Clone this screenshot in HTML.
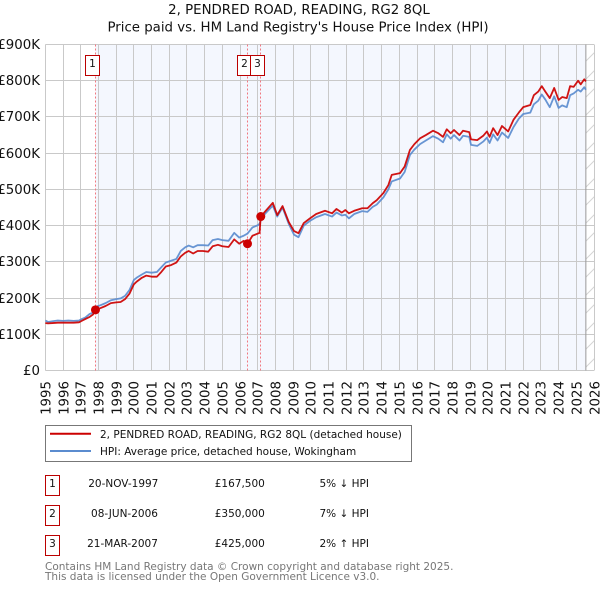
<!DOCTYPE html>
<html>
<head>
<meta charset="utf-8">
<title>2, PENDRED ROAD, READING, RG2 8QL</title>
<style>
html,body{margin:0;padding:0;background:#fff;width:600px;height:590px;overflow:hidden}
svg{display:block}
text{font-family:"DejaVu Sans","Liberation Sans",sans-serif;fill:#111}
</style>
</head>
<body>
<svg id="chart" width="600" height="590" viewBox="0 0 600 590" xmlns="http://www.w3.org/2000/svg">
  <defs>
    <pattern id="hatch" x="585" y="44" width="18" height="18" patternUnits="userSpaceOnUse">
      <path d="M0 18 L18 0 M-2 2 L2 -2 M16 20 L20 16" stroke="#d4d4d4" stroke-width="1" fill="none"/>
    </pattern>
  </defs>
  <text x="299" y="14" font-size="13.33" text-anchor="middle">2, PENDRED ROAD, READING, RG2 8QL</text>
  <text x="298" y="31.5" font-size="13.33" text-anchor="middle">Price paid vs. HM Land Registry's House Price Index (HPI)</text>
  <g id="plot"></g>
  <g>
    <rect x="45.5" y="425.5" width="366" height="36" fill="#fff" stroke="#777" stroke-width="1"/>
    <line x1="50" x2="91" y1="433.7" y2="433.7" stroke="#cc0000" stroke-width="2"/>
    <text x="100" y="438" font-size="10.5">2, PENDRED ROAD, READING, RG2 8QL (detached house)</text>
    <line x1="50" x2="91" y1="451" y2="451" stroke="#5b8ccf" stroke-width="2"/>
    <text x="100" y="455" font-size="10.5">HPI: Average price, detached house, Wokingham</text>
  </g>
  <g>
    <g>
      <rect x="45.5" y="475.5" width="14" height="20" fill="#fff" stroke="#bb0000" stroke-width="1"/>
      <text x="52.5" y="487" font-size="10.5" text-anchor="middle">1</text>
      <text x="123.3" y="487" font-size="10.5" text-anchor="middle">20-NOV-1997</text>
      <text x="239.8" y="487" font-size="10.5" text-anchor="middle">£167,500</text>
      <text x="319.5" y="487" font-size="10.5">5% ↓ HPI</text>
    </g>
    <g>
      <rect x="45.5" y="505.5" width="14" height="20" fill="#fff" stroke="#bb0000" stroke-width="1"/>
      <text x="52.5" y="517" font-size="10.5" text-anchor="middle">2</text>
      <text x="124.5" y="517" font-size="10.5" text-anchor="middle">08-JUN-2006</text>
      <text x="239.8" y="517" font-size="10.5" text-anchor="middle">£350,000</text>
      <text x="319.5" y="517" font-size="10.5">7% ↓ HPI</text>
    </g>
    <g>
      <rect x="45.5" y="535.5" width="14" height="20" fill="#fff" stroke="#bb0000" stroke-width="1"/>
      <text x="52.5" y="547" font-size="10.5" text-anchor="middle">3</text>
      <text x="122.5" y="547" font-size="10.5" text-anchor="middle">21-MAR-2007</text>
      <text x="239.8" y="547" font-size="10.5" text-anchor="middle">£425,000</text>
      <text x="319.5" y="547" font-size="10.5">2% ↑ HPI</text>
    </g>
  </g>
  <text x="45" y="570" font-size="10.5" style="fill:#777">Contains HM Land Registry data © Crown copyright and database right 2025.</text>
  <text x="45" y="580" font-size="10.5" style="fill:#777">This data is licensed under the Open Government Licence v3.0.</text>
</svg>
<script>
const yearTicks = [1995,1996,1997,1998,1999,2000,2001,2002,2003,2004,2005,2006,2007,2008,2009,2010,2011,2012,2013,2014,2015,2016,2017,2018,2019,2020,2021,2022,2023,2024,2025,2026];
const priceTicks = [0,100,200,300,400,500,600,700,800,900];
const priceTickLabels = ['£0','£100K','£200K','£300K','£400K','£500K','£600K','£700K','£800K','£900K'];
const seriesDates = [1995.0,1995.15,1995.4,1995.7,1996.0,1996.3,1996.6,1996.9,1997.05,1997.25,1997.5,1997.7,1997.83,1998.1,1998.4,1998.7,1999.0,1999.25,1999.5,1999.75,2000.0,2000.15,2000.45,2000.7,2001.0,2001.3,2001.55,2001.8,2002.1,2002.4,2002.65,2002.9,2003.1,2003.35,2003.6,2003.9,2004.2,2004.45,2004.75,2005.0,2005.35,2005.67,2005.95,2006.2,2006.42,2006.7,2007.0,2007.1,2007.17,2007.4,2007.85,2008.1,2008.4,2008.75,2009.05,2009.3,2009.6,2009.95,2010.3,2010.8,2011.2,2011.45,2011.75,2011.95,2012.15,2012.45,2012.9,2013.2,2013.5,2013.72,2014.1,2014.38,2014.57,2015.04,2015.3,2015.6,2015.85,2016.17,2016.5,2016.9,2017.2,2017.47,2017.68,2017.9,2018.09,2018.4,2018.6,2018.95,2019.05,2019.4,2019.74,2019.95,2020.1,2020.3,2020.55,2020.8,2021.15,2021.45,2021.75,2022.0,2022.4,2022.6,2022.85,2023.05,2023.25,2023.5,2023.75,2024.0,2024.2,2024.46,2024.65,2024.85,2025.1,2025.25,2025.45,2025.54];
const hpiValues = [138,134,136,138,137,138,137,138,142,146,156,160,176,180,186,194,197,199,206,222,250,256,265,272,270,272,285,298,303,308,330,340,345,340,346,346,345,360,363,360,358,380,367,372,378,395,401,405,415,432,455,425,450,405,375,368,400,413,423,432,425,436,428,430,420,432,440,438,452,458,478,500,522,530,548,595,610,625,635,647,640,630,652,640,650,635,648,645,623,620,632,643,628,652,635,657,642,672,695,708,712,735,745,762,748,727,757,725,732,727,760,765,775,770,782,775];
const priceValues = [131,130,131,132,132,132,132,133,137,142,148,155,167.5,172,178,186,188,189,197,212,238,245,256,262,259,259,272,287,291,298,315,325,330,323,330,330,328,343,347,343,341,362,350,358,350,372,378,380,425,438,463,429,454,410,385,379,407,420,432,441,434,446,436,443,434,441,448,448,462,470,490,512,540,545,563,609,625,641,650,662,655,645,666,655,664,650,662,658,638,636,648,660,645,669,650,675,660,692,712,727,733,760,770,785,770,752,780,747,755,752,785,783,800,790,804,798];
const saleDates = [1997.83,2006.42,2007.17];
const salePrices = [167.5,350,425];
const saleLabels = ['1','2','3'];
const dataEnd = 2025.54;

const X0 = 45.4, X1 = 594, Y0 = 370.5, Y1 = 44.5;
function xScale(year){ return X0 + (year - 1995) * (X1 - X0) / 31; }
function yScale(k){ return Y0 - k * (Y0 - Y1) / 900; }

const NS = 'http://www.w3.org/2000/svg';
const plot = document.getElementById('plot');
function make(tag, attrs, text){
  const el = document.createElementNS(NS, tag);
  for (const k in attrs) el.setAttribute(k, attrs[k]);
  if (text !== undefined) el.textContent = text;
  plot.appendChild(el);
  return el;
}
function crisp(v){ return Math.round(v - 0.5) + 0.5; }

let el = make('rect', {x: xScale(saleDates[0]), y: Y1, width: xScale(dataEnd) - xScale(saleDates[0]), height: Y0 - Y1, fill: '#f4f7fe'});



el = make('rect', {x: xScale(dataEnd), y: Y1, width: X1 - xScale(dataEnd), height: Y0 - Y1, fill: 'url(#hatch)'});



priceTicks.forEach(function(t, i){
  const y = crisp(yScale(t));
  const g = make('line', {x1: X0, x2: X1, y1: y, y2: y, stroke: '#c9c9c9', 'stroke-width': 1});
  
  
  const l = make('text', {x: 40, y: y + 4.5, 'font-size': 13.33, 'text-anchor': 'end'}, priceTickLabels[i]);
  
  
});

yearTicks.forEach(function(t){
  const x = crisp(xScale(t));
  const g = make('line', {x1: x, x2: x, y1: Y1, y2: Y0, stroke: '#c9c9c9', 'stroke-width': 1});
  
  
  const l = make('text', {x: 0, y: 0, 'font-size': 13.33, 'text-anchor': 'end', transform: 'translate(' + (x + 5) + ',381) rotate(-90)'}, String(t));
  
  
});

el = make('line', {x1: xScale(dataEnd), x2: xScale(dataEnd), y1: Y1, y2: Y0, stroke: '#999', 'stroke-width': 1});



saleDates.forEach(function(d){
  const x = crisp(xScale(d));
  const v = make('line', {x1: x, x2: x, y1: Y1, y2: Y0, stroke: '#f07880', 'stroke-width': 1, 'stroke-dasharray': '2 2'});
  
  
});

function pathFor(values){
  return values.map(function(v, i){
    return (i ? 'L' : 'M') + xScale(seriesDates[i]).toFixed(2) + ' ' + yScale(v).toFixed(2);
  }).join(' ');
}
el = make('path', {d: pathFor(hpiValues), fill: 'none', stroke: '#5b8ccf', 'stroke-width': 1.8, 'stroke-linejoin': 'round', opacity: 0.92});


el = make('path', {d: pathFor(priceValues), fill: 'none', stroke: '#cc0000', 'stroke-width': 1.8, 'stroke-linejoin': 'round', opacity: 0.92});



saleDates.forEach(function(d, i){
  const x = xScale(d), y = yScale(salePrices[i]);
  const c = make('circle', {cx: x, cy: y, r: 4.5, fill: '#cc0000'});
  
  
  const b = make('rect', {x: crisp(x) - 10, y: 55.5, width: 14, height: 20, fill: '#fff', stroke: '#bb0000', 'stroke-width': 1});
  
  
  const t = make('text', {x: crisp(x) - 3, y: 67, 'font-size': 10.5, 'text-anchor': 'middle'}, saleLabels[i]);
  
  
});
</script>
</body>
</html>
